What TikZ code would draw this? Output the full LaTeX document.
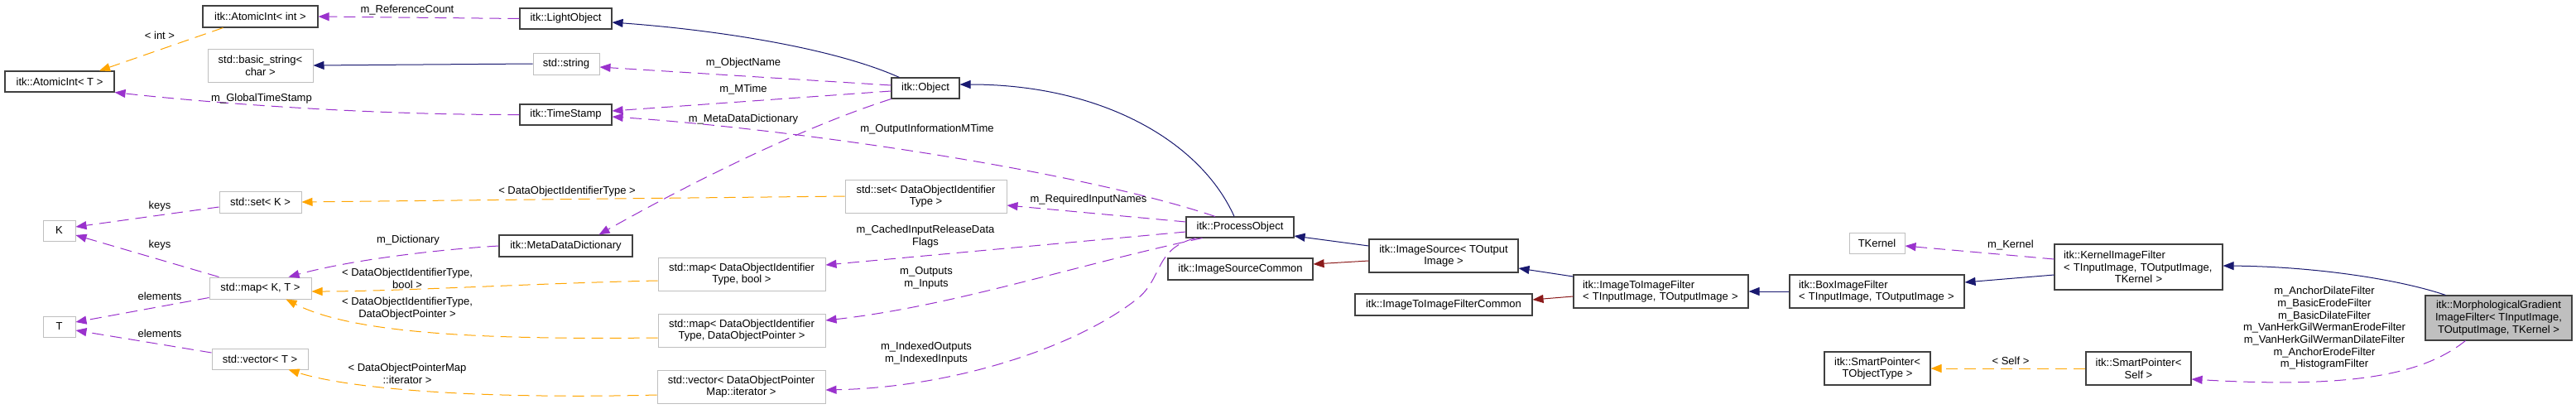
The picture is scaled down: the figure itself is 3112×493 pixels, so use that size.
\documentclass[tikz,border=0pt]{standalone}
\usepackage{fontspec}
\setmainfont{Liberation Sans}
\usetikzlibrary{arrows.meta}
\definecolor{navyc}{HTML}{191970}
\definecolor{dredc}{HTML}{8B1A1A}
\definecolor{purpc}{HTML}{9A32CD}
\definecolor{orngc}{HTML}{FFA500}
\definecolor{boxdark}{HTML}{404040}
\definecolor{boxgray}{HTML}{BFBFBF}
\newcommand\mynode[7]{\node[#6, minimum width={(#4-#2)*1pt}, minimum height={(#5-#3)*1pt}] (#1) at ({(#2+#4)/2},{(#3+#5)/2}) {#7};}
\tikzset{
  bx/.style={draw=boxdark, line width=1.1pt, inner sep=0pt, align=center, text=black},
  gx/.style={bx, draw=boxgray, line width=1pt},
  lbx/.style={bx, align=left, inner xsep=11pt},
  lbl/.style={inner sep=0pt, align=center, text=black},
  tip/.style={-{Triangle[length=13pt,width=10pt]}},
  inh/.style={draw=navyc, line width=1pt, tip},
  priv/.style={draw=dredc, line width=1pt, tip},
  use/.style={draw=purpc, line width=1pt, dash pattern=on 14pt off 8pt, tip},
  tmpl/.style={draw=orngc, line width=1pt, dash pattern=on 14pt off 8pt, tip}
}
\begin{document}
\begin{tikzpicture}[x=1pt,y=-1pt,font=\fontsize{13}{14.7}\selectfont]
\useasboundingbox[fill=white] (0,0) rectangle (3112,493);
% nodes
\mynode{aiint}{245}{7}{384}{33}{bx}{itk::AtomicInt< int >}
\mynode{bstr}{251}{59}{378}{99}{gx}{std::basic\_string<\\char >}
\mynode{aiT}{6}{86}{138}{111}{bx}{itk::AtomicInt< T >}
\mynode{setK}{265}{231}{364}{257}{gx}{std::set< K >}
\mynode{K}{52}{266}{91}{291}{gx}{K}
\mynode{T}{52}{382}{91}{407}{gx}{T}
\mynode{mapKT}{253}{335}{376}{361}{gx}{std::map< K, T >}
\mynode{vecT}{256}{421}{372}{446}{gx}{std::vector< T >}
\mynode{lo}{628}{10}{739}{35}{bx}{itk::LightObject}
\mynode{str}{644}{64}{724}{90}{gx}{std::string}
\mynode{ts}{628}{126}{739}{151}{bx}{itk::TimeStamp}
\mynode{mdd}{603}{284}{764}{310}{bx}{itk::MetaDataDictionary}
\mynode{setDOIT}{1021}{217}{1216}{257}{gx}{std::set< DataObjectIdentifier\\Type >}
\mynode{mapB}{795}{311}{997}{351}{gx}{std::map< DataObjectIdentifier\\Type, bool >}
\mynode{mapP}{795}{379}{997}{419}{gx}{std::map< DataObjectIdentifier\\Type, DataObjectPointer >}
\mynode{vecI}{794}{447}{997}{487}{gx}{std::vector< DataObjectPointer\\Map::iterator >}
\mynode{obj}{1077}{94}{1159}{119}{bx}{itk::Object}
\mynode{po}{1433}{262}{1563}{287}{bx}{itk::ProcessObject}
\mynode{isc}{1411}{312}{1586}{338}{bx}{itk::ImageSourceCommon}
\mynode{is}{1654}{289}{1834}{329}{bx}{itk::ImageSource< TOutput\\Image >}
\mynode{itifc}{1637}{355}{1851}{381}{bx}{itk::ImageToImageFilterCommon}
\mynode{itif}{1901}{332}{2112}{372}{lbx,text width=189pt}{itk::ImageToImageFilter\\< TInputImage, TOutputImage >}
\mynode{tk}{2234}{281}{2301}{306}{gx}{TKernel}
\mynode{box}{2162}{332}{2373}{372}{lbx,text width=189pt}{itk::BoxImageFilter\\< TInputImage, TOutputImage >}
\mynode{kif}{2482}{295}{2685}{350}{lbx,text width=181pt}{itk::KernelImageFilter\\< TInputImage, TOutputImage,\\\makebox[181pt][c]{TKernel >}}
\mynode{spT}{2204}{425}{2332}{465}{bx}{itk::SmartPointer<\\TObjectType >}
\mynode{spS}{2520}{425}{2647}{465}{bx}{itk::SmartPointer<\\Self >}
\mynode{morph}{2930}{357}{3107}{411}{bx,fill=boxgray}{itk::MorphologicalGradient\\ImageFilter< TInputImage,\\TOutputImage, TKernel >}
% edges
\draw[use] (lo.west) -- (aiint.east);
\draw[tmpl] ([xshift=-45pt]aiint.south) -- ([xshift=48pt]aiT.north);
\draw[inh] (str.west) -- (bstr.east);
\draw[use] (ts.west) .. controls (450,139) and (260,125) .. (aiT.south east);
\draw[inh] ([xshift=10pt]obj.north west) .. controls (1000,55) and (850,35) .. ([yshift=-4.5pt]lo.east);
\draw[use] ([yshift=3.5pt]obj.west) -- ([yshift=-4pt]str.east);
\draw[use] ([yshift=-3.5pt]obj.west) -- ([yshift=4.5pt]ts.east);
\draw[use] ([xshift=-30pt]po.north) .. controls (1300,205) and (950,155) .. ([yshift=-2.5pt]ts.east);
\draw[use] (obj.south west) .. controls (950,160) and (800,240) .. ([xshift=40pt]mdd.north);
\draw[use] (mdd.west) .. controls (520,302) and (420,315) .. ([xshift=-28pt]mapKT.north east);
\draw[use] ([xshift=12pt]mapKT.north west) -- ([yshift=-5.5pt]K.east);
\draw[use] ([yshift=-6pt]setK.west) -- ([yshift=4.5pt]K.east);
\draw[use] ([yshift=2pt]mapKT.south west) -- ([yshift=5.5pt]T.east);
\draw[use] ([yshift=7.5pt]vecT.west) -- ([yshift=-4.5pt]T.east);
\draw[tmpl] (setDOIT.west) -- (setK.east);
\draw[tmpl] ([yshift=-8pt]mapB.west) .. controls (650,342) and (480,352) .. ([yshift=-4pt]mapKT.east);
\draw[tmpl] ([yshift=-9pt]mapP.west) .. controls (600,410) and (430,405) .. ([xshift=-31pt]mapKT.south east);
\draw[tmpl] ([yshift=-10pt]vecI.west) .. controls (600,482) and (430,472) .. ([xshift=-24pt]vecT.south east);
\draw[use] ([yshift=6.5pt]po.west) -- ([yshift=-11pt]setDOIT.east);
\draw[use] ([yshift=-5.5pt]po.west) -- ([yshift=11pt]mapB.east);
\draw[use] ([xshift=20pt]po.south west) .. controls (1300,320) and (1150,370) .. ([yshift=12pt]mapP.east);
\draw[use] ([xshift=12pt]po.south west) .. controls (1395,300) and (1405,335) .. (1375,360) .. controls (1300,420) and (1150,468) .. ([yshift=-4pt]vecI.east);
\draw[inh] ([xshift=-7pt]po.north) .. controls (1450,170) and (1330,102) .. ([yshift=4.5pt]obj.east);
\draw[inh] ([yshift=12pt]is.west) -- ([yshift=-10.5pt]po.east);
\draw[priv] ([yshift=-6pt]is.west) -- ([yshift=6pt]isc.east);
\draw[inh] ([yshift=18pt]itif.west) -- ([yshift=-15pt]is.east);
\draw[priv] ([yshift=-6pt]itif.west) -- ([yshift=6pt]itifc.east);
\draw[inh] (box.west) -- (itif.east);
\draw[inh] ([yshift=-9.5pt]kif.west) -- ([yshift=11pt]box.east);
\draw[use] ([yshift=9.5pt]kif.west) -- ([yshift=-3.5pt]tk.east);
\draw[inh] ([xshift=25pt]morph.north west) .. controls (2900,338) and (2800,322) .. ([yshift=1.5pt]kif.east);
\draw[tmpl] (spS.west) -- (spT.east);
\draw[use] ([xshift=49pt]morph.south west) .. controls (2930,450) and (2850,470) .. ([yshift=-13pt]spS.east);
% labels
\node[lbl] (l1) at (492,12) {m\_ReferenceCount};
\node[lbl] (l2) at (193,43) {< int >};
\node[lbl] (l3) at (316,119) {m\_GlobalTimeStamp};
\node[lbl] (l4) at (898,76) {m\_ObjectName};
\node[lbl] (l5) at (898,108) {m\_MTime};
\node[lbl] (l6) at (898,144) {m\_MetaDataDictionary};
\node[lbl] (l7) at (1120,156) {m\_OutputInformationMTime};
\node[lbl] (l8) at (685,231) {< DataObjectIdentifierType >};
\node[lbl] (l9) at (493,290) {m\_Dictionary};
\node[lbl] (l10) at (193,249) {keys};
\node[lbl] (l11) at (193,296) {keys};
\node[lbl] (l12) at (193,358) {elements};
\node[lbl] (l13) at (193,403) {elements};
\node[lbl] (l14) at (492,336.5) {< DataObjectIdentifierType,\\bool >};
\node[lbl] (l15) at (492,372.5) {< DataObjectIdentifierType,\\DataObjectPointer >};
\node[lbl] (l16) at (492,451) {< DataObjectPointerMap\\::iterator >};
\node[lbl] (l17) at (1315,241) {m\_RequiredInputNames};
\node[lbl] (l18) at (1118,285.5) {m\_CachedInputReleaseData\\Flags};
\node[lbl] (l19) at (1119,335.5) {m\_Outputs\\m\_Inputs};
\node[lbl] (l20) at (1119,426.5) {m\_IndexedOutputs\\m\_IndexedInputs};
\node[lbl] (l21) at (2429,296) {m\_Kernel};
\node[lbl] (l22) at (2429,436) {< Self >};
\node[lbl] (l23) at (2808,396.5) {m\_AnchorDilateFilter\\m\_BasicErodeFilter\\m\_BasicDilateFilter\\m\_VanHerkGilWermanErodeFilter\\m\_VanHerkGilWermanDilateFilter\\m\_AnchorErodeFilter\\m\_HistogramFilter};
\end{tikzpicture}
\end{document}
